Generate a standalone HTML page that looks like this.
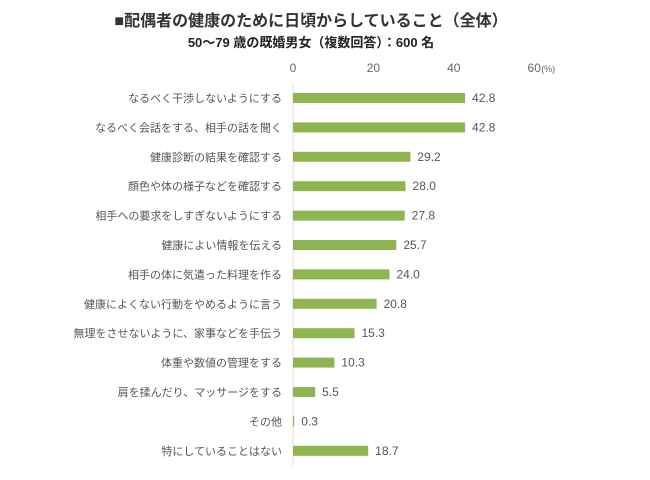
<!DOCTYPE html>
<html><head><meta charset="utf-8"><style>
body{margin:0;background:#fff;width:650px;height:475px;overflow:hidden;font-family:"Liberation Sans","Noto Sans CJK JP",sans-serif}
</style></head><body>
<svg width="650" height="475">
<text x="311" y="26" text-anchor="middle" font-size="16" font-weight="bold" fill="#333">■配偶者の健康のために日頃からしていること（全体）</text>
<text x="311" y="47" text-anchor="middle" font-size="13" font-weight="bold" fill="#222">50～79 歳の既婚男女（複数回答）：600 名</text>
<g id="g"></g>
</svg>
<script>
const categories=["なるべく干渉しないようにする","なるべく会話をする、相手の話を聞く","健康診断の結果を確認する","顔色や体の様子などを確認する","相手への要求をしすぎないようにする","健康によい情報を伝える","相手の体に気遣った料理を作る","健康によくない行動をやめるように言う","無理をさせないように、家事などを手伝う","体重や数値の管理をする","肩を揉んだり、マッサージをする","その他","特にしていることはない"];
const values=[42.8,42.8,29.2,28.0,27.8,25.7,24.0,20.8,15.3,10.3,5.5,0.3,18.7];
const ticks=[0,20,40,60];
const NS="http://www.w3.org/2000/svg";
const g=document.getElementById('g');
const x=v=>293+v*4.02;
const y=i=>98+i*29.4;
function mk(t,a,txt){const e=document.createElementNS(NS,t);for(const k in a)e.setAttribute(k,a[k]);if(txt!=null)e.textContent=txt;g.appendChild(e);return e;}
ticks.forEach(t=>{const e=mk('text',{x:x(t),y:72,'text-anchor':'middle','font-size':12,fill:'#666'},t);

});
const u=mk('text',{x:x(60)+7,y:72,'font-size':9,fill:'#666'},'(%)');


const ax=mk('line',{x1:293,x2:293,y1:84,y2:466,stroke:'#ddd','stroke-width':1});


categories.forEach((c,i)=>{
const l=mk('text',{x:282,y:y(i)+4,'text-anchor':'end','font-size':11,fill:'#555'},c);


const b=mk('rect',{x:293,y:y(i)-5,width:Math.max(values[i]*4.02,0.8),height:10,fill:'#8fb550'});


const v=mk('text',{x:x(values[i])+7,y:y(i)+4,'font-size':12,fill:'#555'},values[i].toFixed(1));


});
</script>
</body></html>
